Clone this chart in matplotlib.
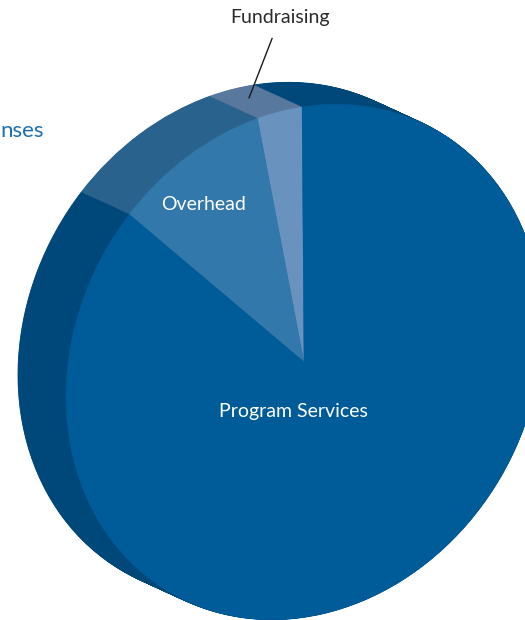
import matplotlib
matplotlib.use("Agg")
import matplotlib.pyplot as plt
from matplotlib.transforms import Affine2D
import numpy as np

# ---- data ----
categories = ["Fundraising", "Overhead", "Program Services"]
shares = [3, 10, 87]
face_colors = ["#6993be", "#3278aa", "#005c98"]
side_colors = ["#58789e", "#29628c", "#00477a"]
title = "nses"   # visible (cropped) part of the heading

W, H = 525, 620
fig = plt.figure(figsize=(W / 100, H / 100), dpi=100)
ax = fig.add_axes([0, 0, 1, 1])
ax.set_xlim(0, W)
ax.set_ylim(H, 0)

# projection of the unit pie onto the page (pixel units, y down)
cx, cy = 304.0, 362.0
M = np.array([[238.0, -2.0], [-37.0, -255.0]])
ox, oy = -48.0, -22.0   # extrusion toward the back face

def proj(dx=0.0, dy=0.0):
    mtx = np.array([[M[0, 0], M[0, 1], cx + dx],
                    [M[1, 0], M[1, 1], cy + dy],
                    [0, 0, 1]])
    return Affine2D(mtx) + ax.transData

def draw_pie(colors, tr, lw):
    wedges, _ = ax.pie(shares, colors=colors, startangle=90, counterclock=True,
                       center=(0, 0), radius=1.0)
    for w in wedges:
        w.set_transform(tr)
        w.set_edgecolor(w.get_facecolor())
        w.set_linewidth(lw)

n = 70
for t in np.linspace(0, 1, n):
    draw_pie(side_colors, proj(ox * (1 - t), oy * (1 - t)), 0.6)
draw_pie(face_colors, proj(), 0.3)

ax.set_aspect("auto")
ax.set_xlim(0, W)
ax.set_ylim(H, 0)
ax.axis("off")

font = ["Lato", "DejaVu Sans"]
ax.text(293, 412, categories[2], color="white", fontsize=14,
        ha="center", va="center", family=font)
ax.text(204, 204, categories[1], color="white", fontsize=14,
        ha="center", va="center", family=font)
ax.annotate(categories[0], xy=(249, 98), xytext=(280, 18),
            color="#2b2b2b", fontsize=14, ha="center", va="center", family=font,
            arrowprops=dict(arrowstyle="-", color="#1a1a1a", lw=1.0,
                            shrinkA=7, shrinkB=0))
ax.text(0, 131, title, color="#1d70b0", fontsize=16,
        ha="left", va="center", family=font)

fig.savefig("out.png", dpi=100)
